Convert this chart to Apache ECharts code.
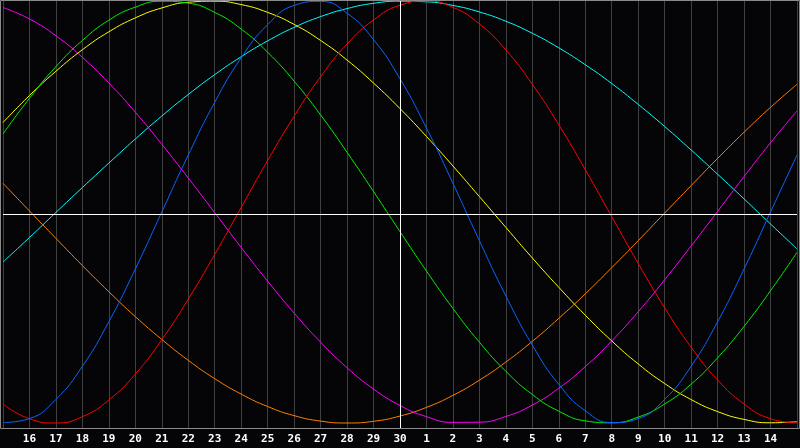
<!DOCTYPE html>
<html>
<head>
<meta charset="utf-8">
<style>
  html, body { margin: 0; padding: 0; background: #050508; }
  #chart { width: 800px; height: 448px; }
</style>
<script src="https://cdn.jsdelivr.net/npm/echarts@6/dist/echarts.min.js"></script>
</head>
<body>
<div id="chart"></div>
<script>
// Day labels (x positions 0..30; first and last are the edge days, unlabeled)
var dayLabels = [15,16,17,18,19,20,21,22,23,24,25,26,27,28,29,30,1,2,3,4,5,6,7,8,9,10,11,12,13,14,15];

// Series values (percent), one per day position
var physical     = [-99.8,-97.9,-88.8,-73.1,-52.0,-27.0,0,27.0,52.0,73.1,88.8,97.9,99.8,94.2,81.7,63.1,39.8,13.6,-13.6,-39.8,-63.1,-81.7,-94.2,-99.8,-97.9,-88.8,-73.1,-52.0,-27.0,0,27.0];
var emotional    = [-91.0,-98.0,-100.0,-97.0,-89.1,-76.8,-60.5,-41.3,-20.1,2.2,24.4,45.4,64.1,79.6,91.0,98.0,100.0,97.0,89.1,76.8,60.5,41.3,20.1,-2.2,-24.4,-45.4,-64.1,-79.6,-91.0,-98.0,-100.0];
var intellectual = [37.0,53.9,68.9,81.3,90.9,97.1,99.9,99.0,94.6,86.7,75.7,62.0,46.0,28.3,9.7,-9.3,-28.0,-45.7,-61.7,-75.5,-86.5,-94.4,-99.0,-99.9,-97.2,-91.0,-81.6,-69.1,-54.2,-37.3,-19.1];
var aesthetic    = [42.4,55.2,66.7,76.9,85.4,92.0,96.7,99.4,99.9,98.3,94.6,88.9,81.3,72.0,61.1,49.0,35.8,21.8,7.3,-7.3,-21.8,-35.7,-48.9,-61.1,-72.0,-81.3,-88.9,-94.6,-98.3,-99.9,-99.4];
var spiritual    = [-23.7,-12.1,-0.2,11.6,23.2,34.6,45.5,55.7,65.1,73.6,81.1,87.5,92.6,96.4,98.9,99.9,99.6,97.9,94.8,90.4,84.7,77.8,69.8,60.9,51.0,40.5,29.4,17.9,6.2,-5.7,-17.5];
var intuitive    = [96.9,91.5,83.5,73.3,61.1,47.3,32.1,16.1,-0.3,-16.8,-32.8,-47.9,-61.7,-73.8,-83.9,-91.7,-97.0,-99.7,-99.6,-96.9,-91.5,-83.5,-73.3,-61.1,-47.3,-32.1,-16.1,0.3,16.8,32.8,47.9];
var awareness    = [13.6,0.5,-12.5,-25.4,-37.8,-49.6,-60.4,-70.3,-79.0,-86.3,-92.2,-96.5,-99.1,-100.0,-99.2,-96.7,-92.6,-86.9,-79.7,-71.1,-61.3,-50.4,-38.8,-26.4,-13.6,-0.5,12.5,25.4,37.8,49.6,60.5];

var seriesDefs = [
  { name: 'Awareness',    values: awareness,    color: '#ff8000' },
  { name: 'Spiritual',    values: spiritual,    color: '#00ffff' },
  { name: 'Intuitive',    values: intuitive,    color: '#ff00ff' },
  { name: 'Aesthetic',    values: aesthetic,    color: '#ffff00' },
  { name: 'Intellectual', values: intellectual, color: '#00ee00' },
  { name: 'Emotional',    values: emotional,    color: '#ff0000' },
  { name: 'Physical',     values: physical,     color: '#0a64ff' }
];

function toPairs(vals) {
  return vals.map(function (v, i) { return [i, v]; });
}

var series = [{
  type: 'line',
  data: [],
  z: 1,
  silent: true,
  markLine: {
    silent: true,
    symbol: ['none', 'none'],
    label: { show: false },
    lineStyle: { color: '#ffffff', width: 1, type: 'solid' },
    data: [{ xAxis: 15 }, { yAxis: -0.95 }]
  }
}];
seriesDefs.forEach(function (s) {
  series.push({
    name: s.name,
    type: 'line',
    data: toPairs(s.values),
    smooth: 0.5,
    symbol: 'none',
    z: 2,
    lineStyle: { color: s.color, width: 1 },
    itemStyle: { color: s.color }
  });
});

var chart = echarts.init(document.getElementById('chart'));
chart.setOption({
  animation: false,
  backgroundColor: '#050508',
  grid: { left: 0, right: 0, top: 0, bottom: 20, containLabel: false },
  xAxis: {
    type: 'value',
    min: 0,
    max: 30,
    interval: 1,
    axisLine: { show: false },
    axisTick: { show: false },
    splitLine: { show: true, lineStyle: { color: '#404040', width: 1 } },
    axisLabel: {
      color: '#ffffff',
      fontFamily: 'DejaVu Sans Mono',
      fontWeight: 'bold',
      fontSize: 11,
      margin: 6,
      showMinLabel: true,
      showMaxLabel: true,
      formatter: function (v) {
        if (v <= 0 || v >= 30) return '';
        return String(dayLabels[v]);
      }
    }
  },
  yAxis: {
    type: 'value',
    min: -102.37,
    max: 100.47,
    show: false,
    splitLine: { show: false }
  },
  graphic: [{
    type: 'rect',
    z: 100,
    silent: true,
    shape: { x: 0.5, y: 0.5, width: 799, height: 428 },
    style: { fill: null, stroke: '#8a8a8a', lineWidth: 1 }
  }],
  series: series
});
</script>
</body>
</html>
